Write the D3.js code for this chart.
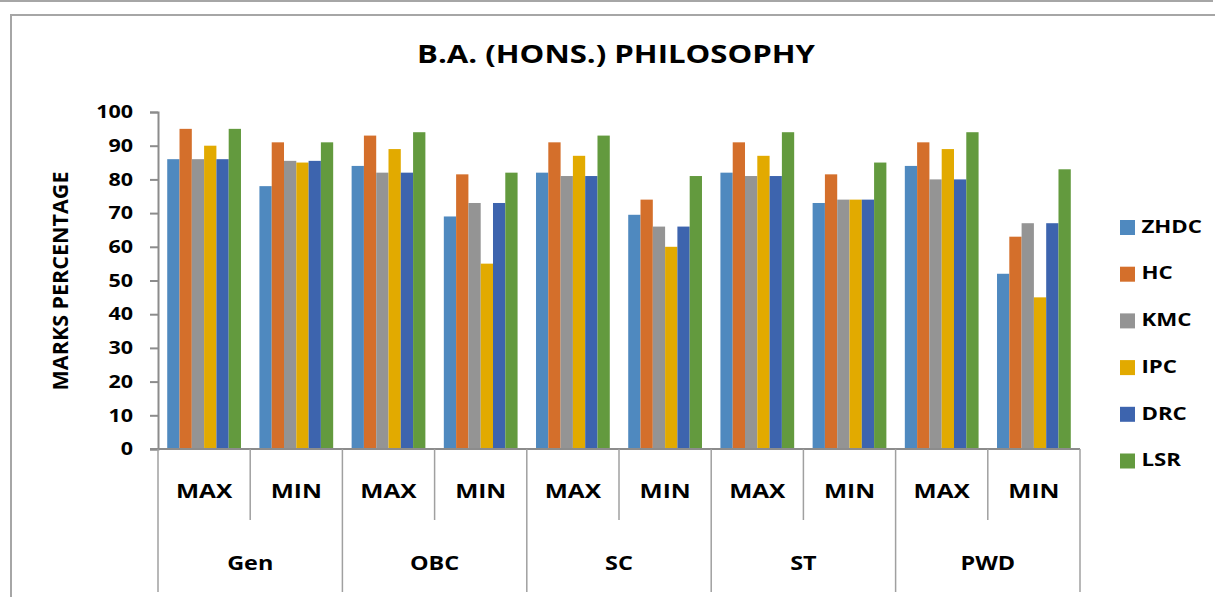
<!DOCTYPE html>
<html lang="en">
<head>
<meta charset="UTF-8">
<title>B.A. (HONS.) PHILOSOPHY</title>
<style>
  body { margin: 0; background: #fff; }
  svg { display: block; }
  text { font-family: "Open Sans", sans-serif; font-weight: bold; fill: #000; }
</style>
</head>
<body>
<svg id="chart"></svg>
<script src="https://cdnjs.cloudflare.com/ajax/libs/d3/7.8.5/d3.min.js"></script>
<script>
// categories and sub categories on the x axis
var categories = ["Gen", "OBC", "SC", "ST", "PWD"];
var subCategories = ["MAX", "MIN"];
var seriesNames = ["ZHDC", "HC", "KMC", "IPC", "DRC", "LSR"];
var yTicks = [0, 10, 20, 30, 40, 50, 60, 70, 80, 90, 100];

// values, in order Gen MAX, Gen MIN, OBC MAX, OBC MIN, ...
var zhdc = [86, 78, 84, 69, 82, 69.5, 82, 73, 84, 52];
var hc   = [95, 91, 93, 81.5, 91, 74, 91, 81.5, 91, 63];
var kmc  = [86, 85.5, 82, 73, 81, 66, 81, 74, 80, 67];
var ipc  = [90, 85, 89, 55, 87, 60, 87, 74, 89, 45];
var drc  = [86, 85.5, 82, 73, 81, 66, 81, 74, 80, 67];
var lsr  = [95, 91, 94, 82, 93, 81, 94, 85, 94, 83];

var seriesValues = [zhdc, hc, kmc, ipc, drc, lsr];
var colors = ["#4f89bf", "#d46f2b", "#949494", "#e2aa00", "#3d64ae", "#639a3e"];

var width = 1215, height = 597;
var plot = { left: 158, right: 1080, top: 112, bottom: 449 };
var SX = 1.25; // the text in the original is drawn a bit wide

var svg = d3.select("#chart").attr("width", width).attr("height", height);

// put a text at x,y, stretched sideways
function label(parent, x, y, str, size, anchor, sx) {
  var g = parent.append("g").attr("transform", "translate(" + x + "," + y + ") scale(" + (sx || SX) + ",1)");
  g.append("text")
    .attr("text-anchor", anchor || "middle")
    .style("font-size", size + "px")
    .text(str);
  return g;
}

// frame lines
svg.append("line").attr("x1", 0).attr("x2", 1213).attr("y1", 1).attr("y2", 1)
  .attr("stroke", "#a6a6a6").attr("stroke-width", 2);
svg.append("path").attr("d", "M11,597V15H1215")
  .attr("fill", "none").attr("stroke", "#a6a6a6").attr("stroke-width", 2);

// build the slot list (category x sub category)
var slots = [];
categories.forEach(function(c) {
  subCategories.forEach(function(s) { slots.push(c + "|" + s); });
});

var x0 = d3.scaleBand().domain(slots).range([plot.left, plot.right]).padding(0);
var gap = x0.bandwidth() * 0.1;
var x1 = d3.scaleBand().domain(seriesNames).range([gap, x0.bandwidth() - gap]).padding(0);
var y = d3.scaleLinear().domain([0, 100]).range([plot.bottom, plot.top]);

// title
label(svg, 616, 63, "B.A. (HONS.) PHILOSOPHY", 24.5, "middle", 1.27);

// bars
var groups = svg.selectAll("g.slot")
  .data(slots)
  .enter().append("g")
  .attr("class", "slot")
  .attr("transform", function(d) { return "translate(" + x0(d) + ",0)"; });

groups.selectAll("rect")
  .data(function(d, i) {
    return seriesNames.map(function(s, j) { return { name: s, value: seriesValues[j][i], color: colors[j] }; });
  })
  .enter().append("rect")
  .attr("x", function(d) { return x1(d.name); })
  .attr("width", x1.bandwidth())
  .attr("y", function(d) { return y(d.value); })
  .attr("height", function(d) { return plot.bottom - y(d.value); })
  .attr("fill", function(d) { return d.color; });

// y axis, tick labels drawn by hand so they can be stretched
var yAxis = d3.axisLeft(y).tickValues(yTicks).tickSize(8).tickFormat("");
var yg = svg.append("g")
  .attr("transform", "translate(" + plot.left + ",0)")
  .call(yAxis);
yg.select(".domain").attr("stroke", "#8c8c8c").attr("stroke-width", 2);
yg.selectAll(".tick line").attr("stroke", "#8c8c8c").attr("stroke-width", 2);
yTicks.forEach(function(t) {
  label(svg, 133, y(t) + 6.2, t, 17.2, "end");
});

svg.append("text")
  .attr("transform", "translate(68,281) rotate(-90)")
  .attr("text-anchor", "middle")
  .style("font-size", "21.5px")
  .text("MARKS PERCENTAGE");

// x axis baseline
svg.append("line")
  .attr("x1", plot.left - 8).attr("x2", plot.right)
  .attr("y1", plot.bottom).attr("y2", plot.bottom)
  .attr("stroke", "#8c8c8c").attr("stroke-width", 2);

// separators below the axis
slots.forEach(function(s, i) {
  var isCatEdge = i % 2 === 0;
  svg.append("line")
    .attr("x1", x0(s)).attr("x2", x0(s))
    .attr("y1", plot.bottom).attr("y2", isCatEdge ? 592 : 520)
    .attr("stroke", "#a0a0a0").attr("stroke-width", 1.5);
});
svg.append("line")
  .attr("x1", plot.right).attr("x2", plot.right)
  .attr("y1", plot.bottom).attr("y2", 592)
  .attr("stroke", "#a0a0a0").attr("stroke-width", 1.5);

// sub category labels
slots.forEach(function(s) {
  label(svg, x0(s) + x0.bandwidth() / 2, 497.5, s.split("|")[1], 19.6);
});

// category labels
categories.forEach(function(c) {
  label(svg, x0(c + "|MAX") + x0.bandwidth(), 569.5, c, 19.5, "middle", 1.2);
});

// legend
seriesNames.forEach(function(name, i) {
  var top = 220 + i * 46.7;
  svg.append("rect")
    .attr("x", 1120).attr("y", top)
    .attr("width", 15).attr("height", 15)
    .attr("fill", colors[i]);
  label(svg, 1141.5, top + 12.7, name, 17.8, "start");
});
</script>
</body>
</html>
